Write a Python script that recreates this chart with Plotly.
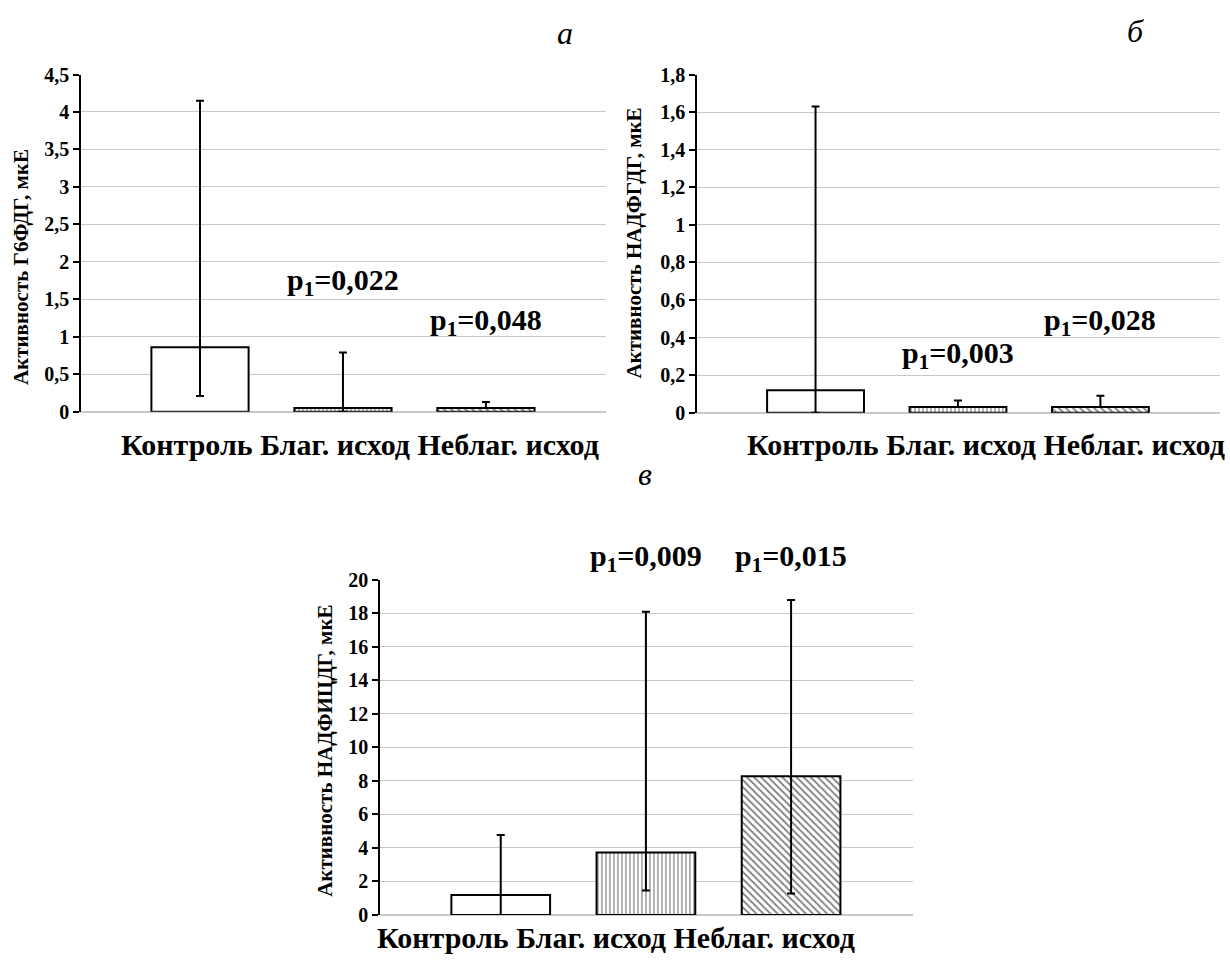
import plotly.graph_objects as go

# Groups shown on every panel
categories = ["Контроль", "Благ. исход", "Неблаг. исход"]

# Panel а: Г6ФДГ activity (median, lower and upper quartile bounds)
g6pd_median = [0.86, 0.05, 0.05]
g6pd_low = [0.21, 0.0, 0.05]
g6pd_high = [4.15, 0.79, 0.13]
g6pd_p = ["", "p<sub>1</sub>=0,022", "p<sub>1</sub>=0,048"]

# Panel б: НАДФГДГ activity
nadp_gdh_median = [0.12, 0.03, 0.03]
nadp_gdh_low = [0.0, 0.03, 0.03]
nadp_gdh_high = [1.63, 0.065, 0.09]
nadp_gdh_p = ["", "p<sub>1</sub>=0,003", "p<sub>1</sub>=0,028"]

# Panel в: НАДФИЦДГ activity
nadp_icdh_median = [1.2, 3.73, 8.28]
nadp_icdh_low = [0.0, 1.46, 1.28]
nadp_icdh_high = [4.78, 18.1, 18.8]
nadp_icdh_p = ["", "p<sub>1</sub>=0,009", "p<sub>1</sub>=0,015"]

SERIF = "Liberation Serif, Times New Roman, serif"

bar_fill = [
    dict(shape="", bgcolor="white"),
    dict(shape="|", fgcolor="black", bgcolor="white", size=4, solidity=0.3),
    dict(shape="\\", fgcolor="black", bgcolor="white", size=5, solidity=0.35),
]

# p-label heights are given as fractions of each plot's height
panels = [
    dict(med=g6pd_median, lo=g6pd_low, hi=g6pd_high, p=g6pd_p,
         xd=[0.0659, 0.4927], yd=[0.5773, 0.933], yr=[0, 4.5], dt=0.5,
         title="Активность Г6ФДГ, мкЕ", tx=21, ty=262,
         letter="а", lx=565, ly=22, labx=360, laby=444,
         py=[None, 0.385, 0.267]),
    dict(med=nadp_gdh_median, lo=nadp_gdh_low, hi=nadp_gdh_high, p=nadp_gdh_p,
         xd=[0.5667, 0.9919], yd=[0.5763, 0.933], yr=[0, 1.8], dt=0.2,
         title="Активность НАДФГДГ, мкЕ", tx=634, ty=238,
         letter="б", lx=1135, ly=20, labx=986, laby=444,
         py=[None, 0.172, 0.267]),
    dict(med=nadp_icdh_median, lo=nadp_icdh_low, hi=nadp_icdh_high, p=nadp_icdh_p,
         xd=[0.3089, 0.7423], yd=[0.0464, 0.40], yr=[0, 20], dt=2,
         title="Активность НАДФИЦДГ, мкЕ", tx=325, ty=757,
         letter="в", lx=645, ly=474, labx=616, laby=948,
         py=[None, 1.064, 1.064]),
]

W, H = 1230, 970
fig = go.Figure()
annotations = []


def paper_note(x, y, text, font, angle=0):
    return dict(x=x / W, y=1 - y / H, xref="paper", yref="paper",
                xanchor="center", yanchor="middle", text=text,
                textangle=angle, showarrow=False, font=font)


for i, pn in enumerate(panels, start=1):
    xa = "x" if i == 1 else f"x{i}"
    ya = "y" if i == 1 else f"y{i}"
    for j, cat in enumerate(categories):
        fig.add_trace(go.Bar(
            x=[j], y=[pn["med"][j]], width=0.68,
            xaxis=xa, yaxis=ya,
            marker=dict(color="white", line=dict(color="black", width=2),
                        pattern=bar_fill[j]),
            error_y=dict(type="data", symmetric=False,
                         array=[pn["hi"][j] - pn["med"][j]],
                         arrayminus=[pn["med"][j] - pn["lo"][j]],
                         color="black", thickness=2, width=4),
            showlegend=False, name=cat,
        ))
        if pn["p"][j]:
            annotations.append(dict(
                x=j, y=pn["py"][j], xref=xa, yref=f"{ya} domain", text=pn["p"][j],
                xanchor="center", yanchor="middle", showarrow=False,
                font=dict(family=SERIF, size=30, color="black", weight="bold"),
            ))
    suffix = "" if i == 1 else str(i)
    fig.layout["xaxis" + suffix] = dict(
        domain=pn["xd"], range=[-0.832, 2.84], anchor=ya,
        showticklabels=False, showgrid=False, zeroline=False, showline=False,
        ticks="", fixedrange=True,
    )
    fig.layout["yaxis" + suffix] = dict(
        domain=pn["yd"], range=pn["yr"], dtick=pn["dt"], tick0=0, anchor=xa,
        showline=True, linecolor="black", linewidth=1.5,
        ticks="outside", ticklen=6, tickwidth=1.5, tickcolor="black",
        showgrid=True, gridcolor="#c8c8c8", gridwidth=1,
        zeroline=True, zerolinecolor="#c8c8c8", zerolinewidth=2,
        tickfont=dict(family=SERIF, size=20, color="black", weight="bold"),
    )
    # axis title
    annotations.append(paper_note(
        pn["tx"], pn["ty"], pn["title"],
        dict(family=SERIF, size=21, color="black", weight="bold"), angle=-90))
    # panel letter
    annotations.append(paper_note(
        pn["lx"], pn["ly"], pn["letter"],
        dict(family=SERIF, size=32, color="black", style="italic")))
    # category labels under the bars
    annotations.append(paper_note(
        pn["labx"], pn["laby"], " ".join(categories),
        dict(family=SERIF, size=30, color="black", weight="bold")))

fig.update_layout(
    width=W, height=H, margin=dict(l=0, r=0, t=0, b=0),
    paper_bgcolor="white", plot_bgcolor="white",
    separators=", ",
    annotations=annotations,
)

fig.write_html("out.html")
